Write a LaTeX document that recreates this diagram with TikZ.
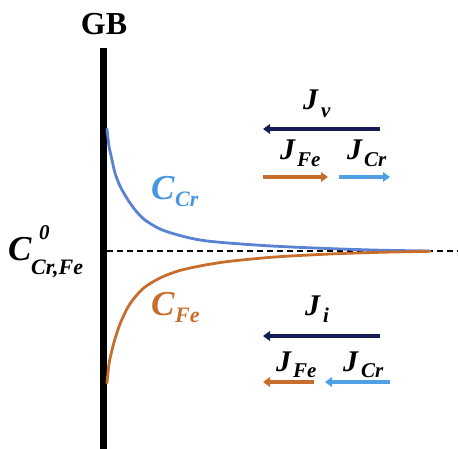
\documentclass[tikz,border=0pt]{standalone}
\usepackage{fontspec}
\setmainfont{Liberation Serif}
\usetikzlibrary{arrows.meta}
\definecolor{navyJ}{RGB}{22,28,84}
\definecolor{orangeC}{RGB}{200,110,45}
\definecolor{lblue}{RGB}{80,160,230}
\definecolor{curveblue}{RGB}{90,130,210}
\definecolor{textblue}{RGB}{70,150,225}
\begin{document}
\begin{tikzpicture}[x=1pt,y=-1pt,
  lab/.style={inner sep=0pt, anchor=base west},
  bigC/.style={lab, font=\fontsize{35}{35}\selectfont\bfseries\itshape},
  bigJ/.style={lab, font=\fontsize{30}{30}\selectfont\bfseries\itshape},
  subs/.style={lab, font=\fontsize{21}{21}\selectfont\bfseries\itshape},
  flux/.style={line width=4pt, -{Triangle[length=7pt,width=9.5pt]}},
  conc/.style={line width=2.8pt, line cap=round}]
\useasboundingbox (0,0) rectangle (458,449);
% grain boundary
\coordinate (gbtop) at (103.5,48);
\coordinate (gbbot) at (103.5,449);
\draw[line width=7pt] (gbtop) -- (gbbot);
\node[inner sep=0pt, anchor=base, font=\fontsize{32}{32}\selectfont\bfseries] (gb) at (104,35) {GB};
% reference level
\coordinate (dl) at (107,251);
\coordinate (dr) at (458,251);
\draw[line width=1.3pt, dash pattern=on 6pt off 4pt] (dl) -- (dr);
% concentration profiles
\draw[conc, curveblue] plot[smooth] coordinates {(107,129) (109,146) (112,160) (115,173) (120,186) (128,200) (136,211) (145,220) (160,229) (178,235) (200,240) (228,243) (275,246.2) (330,248.6) (380,250.2) (430,251)};
\draw[conc, orangeC] plot[smooth] coordinates {(107,383) (109,364) (112,350) (115,339) (120,324) (128,307) (136,296) (145,287) (160,278) (178,271) (200,266) (228,261.5) (275,257) (330,254) (380,252.3) (430,251.3)};
% left label
\node[bigC] (c0) at (8,261) {C};
\node[subs] (c0sup) at (39,240) {0};
\node[subs, font=\fontsize{22}{22}\selectfont\bfseries\itshape] (c0sub) at (31,275) {Cr,Fe};
% curve labels
\node[bigC, textblue] (ccr) at (151,200) {C};
\node[subs, font=\fontsize{22}{22}\selectfont\bfseries\itshape, textblue] (ccrs) at (175,207) {Cr};
\node[bigC, orangeC] (cfe) at (151,315) {C};
\node[subs, font=\fontsize{22}{22}\selectfont\bfseries\itshape, orangeC] (cfes) at (175,322) {Fe};
% vacancy fluxes (top)
\node[bigJ] (jv) at (303,110) {J};
\node[subs] (jvs) at (321,118) {v};
\coordinate (jva) at (380,129); \coordinate (jvb) at (263,129);
\draw[flux, navyJ] (jva) -- (jvb);
\node[bigJ] (jfe1) at (280,160) {J};
\node[subs] (jfe1s) at (297,167) {Fe};
\coordinate (fe1a) at (263,177); \coordinate (fe1b) at (328,177);
\draw[flux, orangeC] (fe1a) -- (fe1b);
\node[bigJ] (jcr1) at (347,160) {J};
\node[subs] (jcr1s) at (364,167) {Cr};
\coordinate (cr1a) at (339,177); \coordinate (cr1b) at (390,177);
\draw[flux, lblue] (cr1a) -- (cr1b);
% interstitial fluxes (bottom)
\node[bigJ] (ji) at (305,315) {J};
\node[subs] (jis) at (323,323) {i};
\coordinate (jia) at (380,336); \coordinate (jib) at (263,336);
\draw[flux, navyJ] (jia) -- (jib);
\node[bigJ] (jfe2) at (276,371) {J};
\node[subs] (jfe2s) at (293,377) {Fe};
\coordinate (fe2a) at (314,382); \coordinate (fe2b) at (263,382);
\draw[flux, orangeC] (fe2a) -- (fe2b);
\node[bigJ] (jcr2) at (343,371) {J};
\node[subs] (jcr2s) at (361,377) {Cr};
\coordinate (cr2a) at (390,382); \coordinate (cr2b) at (325,382);
\draw[flux, lblue] (cr2a) -- (cr2b);
\end{tikzpicture}
\end{document}
